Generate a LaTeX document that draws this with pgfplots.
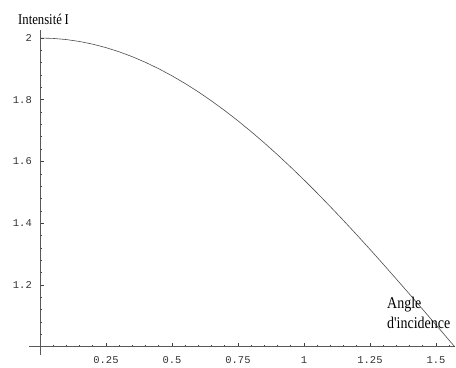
\documentclass[border=0pt]{standalone}
\usepackage{fontspec}
\setmainfont{Liberation Serif}
\newfontfamily\monof{Liberation Mono}
\newfontfamily\condf[FakeStretch=0.85]{Liberation Serif}
\usepackage{pgfplots}
\pgfplotsset{compat=1.18}
\begin{document}
\begin{tikzpicture}
\path[use as bounding box] (-40bp,-21.3bp) rectangle (416bp,346.7bp);
\begin{axis}[
  at={(0,0)}, anchor=south west,
  scale only axis, width=415bp, height=316.7bp,
  xmin=0, xmax=1.572, ymin=1, ymax=2.026,
  axis lines=left,
  axis line style={-, black!65, line width=0.8bp},
  x axis line style={shorten <=-11bp},
  y axis line style={shorten <=-8bp},
  clip=false,
  tick align=inside,
  tick style={black!75, line width=0.6bp},
  major tick length=3.5bp, minor tick length=1.8bp,
  xtick={0.25,0.5,0.75,1,1.25,1.5},
  xticklabels={0.25,0.5,0.75,1,1.25,1.5},
  ytick={1.2,1.4,1.6,1.8,2},
  yticklabels={1.2,1.4,1.6,1.8,2},
  minor xtick={0.05,0.1,0.15,0.2,0.3,0.35,0.4,0.45,0.55,0.6,0.65,0.7,0.8,0.85,0.9,0.95,1.05,1.1,1.15,1.2,1.3,1.35,1.4,1.45,1.55},
  minor ytick={1.04,1.08,1.12,1.16,1.24,1.28,1.32,1.36,1.44,1.48,1.52,1.56,1.64,1.68,1.72,1.76,1.84,1.88,1.92,1.96},
  /pgf/number format/assume math mode=true,
  ticklabel style={font=\monof\fontsize{10.5}{12}\selectfont, text=black!80, inner sep=0pt},
  xticklabel style={anchor=north, yshift=-10bp},
  yticklabel style={anchor=east, xshift=-8bp},
]
\addplot[black!70, line width=0.6bp] coordinates {
(0,2) (0.05,1.99875) (0.1,1.995) (0.15,1.98877) (0.2,1.98007) (0.25,1.96891)
(0.3,1.95534) (0.35,1.93937) (0.4,1.92106) (0.45,1.90045) (0.5,1.87758)
(0.55,1.85252) (0.6,1.82534) (0.65,1.79608) (0.7,1.76484) (0.75,1.73169)
(0.8,1.69671) (0.85,1.65998) (0.9,1.62161) (0.95,1.58168) (1.0,1.5403)
(1.05,1.49757) (1.1,1.4536) (1.15,1.40849) (1.2,1.36236) (1.25,1.31532)
(1.3,1.2675) (1.35,1.21901) (1.4,1.16997) (1.45,1.1205) (1.5,1.07074)
(1.55,1.02079) (1.5708,1.0)
};
\end{axis}
\node[anchor=base west, inner sep=0pt, font=\condf\fontsize{15}{17}\selectfont] at (-22bp,321.7bp) {Intensité\kern-0.5pt\ I};
\node[anchor=base west, inner sep=0pt, font=\condf\fontsize{16.5}{18}\selectfont] at (347bp,38.7bp) {Angle};
\node[anchor=base west, inner sep=0pt, font=\condf\fontsize{16.5}{18}\selectfont] at (347bp,18.7bp) {d'incidence};
\end{tikzpicture}
\end{document}
